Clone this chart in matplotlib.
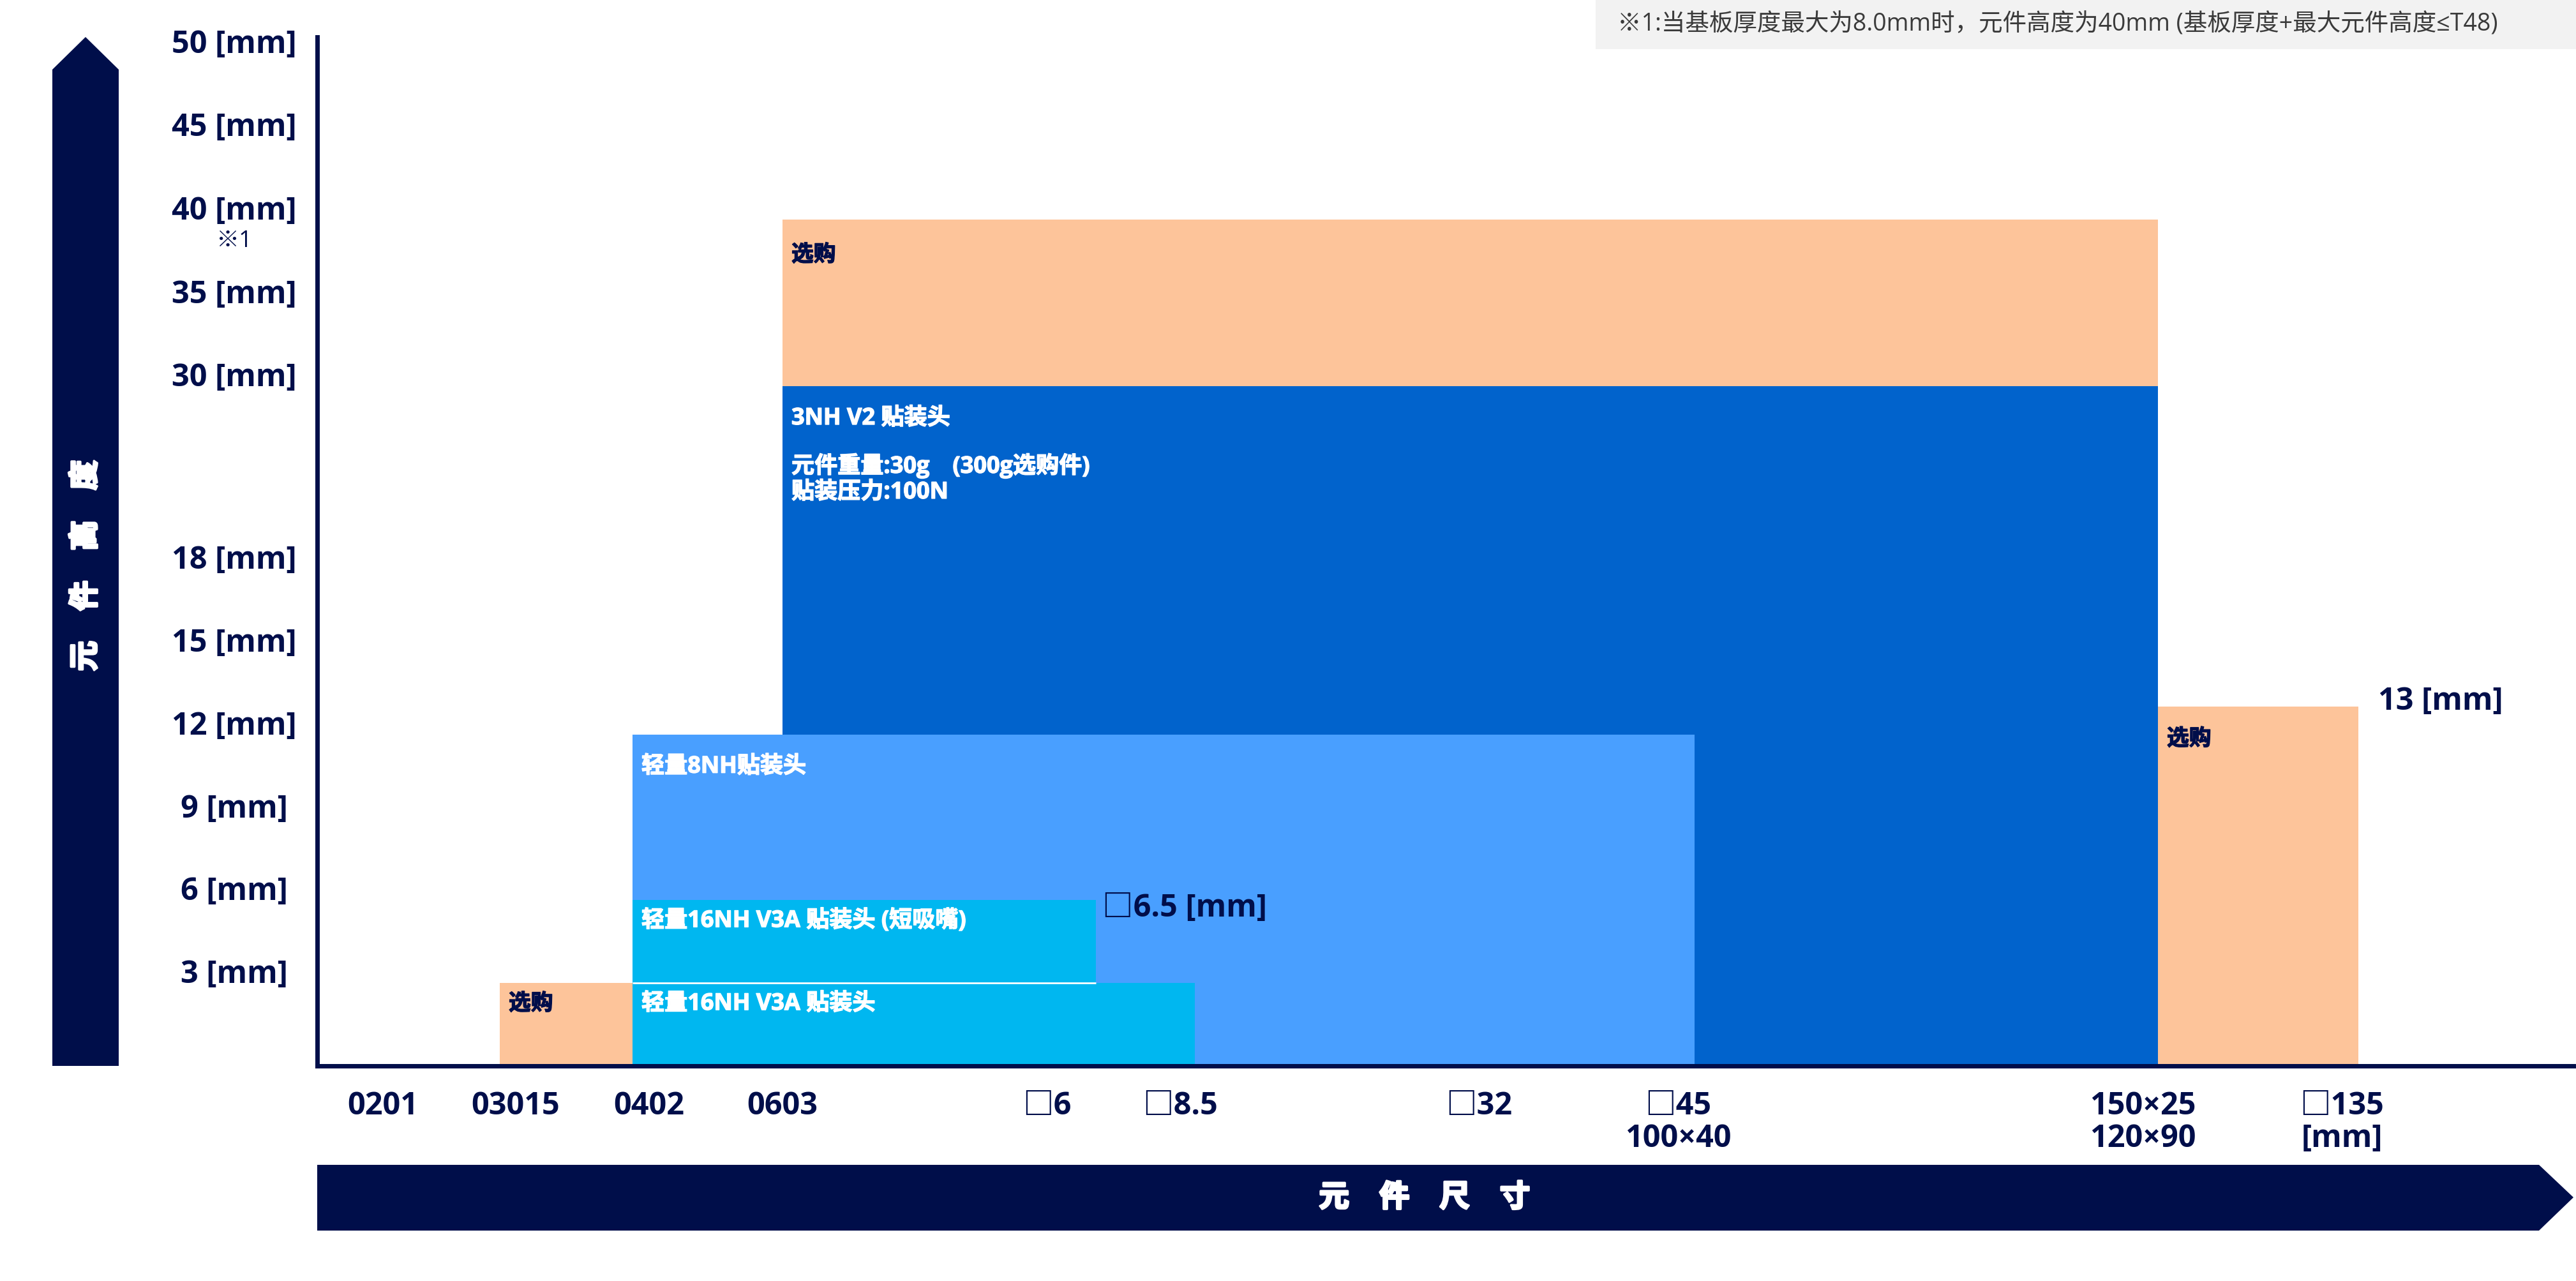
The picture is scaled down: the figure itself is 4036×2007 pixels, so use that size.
#!/usr/bin/env python3

import numpy as np
import matplotlib
matplotlib.use('Agg')
from matplotlib import pyplot as plt
from matplotlib import patheffects
from matplotlib.patches import Polygon, Rectangle

plt.rcParams['font.family'] = ['Open Sans', 'Noto Sans CJK SC', 'DejaVu Sans']

NAVY = '#000E4A'
PEACH = '#FDC49A'
BLUE_3NH = '#0163CC'
BLUE_8NH = '#499FFF'
CYAN_16NH = '#00B7F0'

##data
height_ticks = [3, 6, 9, 12, 15, 18, 30, 35, 40, 45, 50]
size_ticks = ['0201', '03015', '0402', '0603', '□6', '□8.5', '□32',
              '□45\n100×40', '150×25\n120×90', '□135\n[mm]']

box_labels = ['3NH V2 贴装头', '选购', '选购', '轻量8NH贴装头',
              '轻量16NH V3A 贴装头 (短吸嘴)', '轻量16NH V3A 贴装头', '选购']
box_from = ['0603', '0603', '150×25', '0402', '0402', '0402', '03015']
box_to = ['150×25', '150×25', '□135', '□45', '□6.5', '□8.5', '0402']
box_low = [0, 30, 0, 0, 3, 0, 0]
box_high = [30, 40, 13, 12, 6, 3, 3]
box_kind = ['3NH', 'option', 'option', '8NH', '16NH', '16NH', 'option']

spec_3nh = '元件重量:30g\u3000(300g选购件)\n贴装压力:100N'
max_height_note = '13 [mm]'
short_nozzle_note = '□6.5 [mm]'
footnote = '※1:当基板厚度最大为8.0mm时，元件高度为40mm (基板厚度+最大元件高度≤T48)'
x_title = '元\u3000件\u3000尺\u3000寸'
y_title = '元\u3000件\u3000高\u3000度'

##layout
W, H = 4037, 2007
# component sizes are not a numeric axis: where each one sits (px right of the y axis)
size_pos = {'03015': 286, '0402': 494, '0603': 729, '□6.5': 1220, '□8.5': 1375,
            '□45': 2158, '150×25': 2884, '□135': 3198}
tick_pos = [103, 311, 520, 729, 1143, 1352, 1820, 2132, 2860, 3172]
# broken height axis, mm -> px above the x axis
y_knots_mm = [0, 18, 30, 50, 60]
y_knots_px = [0, 779, 1065, 1587, 1848]

face = {'3NH': BLUE_3NH, '8NH': BLUE_8NH, '16NH': CYAN_16NH, 'option': PEACH}
ink = {'3NH': 'white', '8NH': 'white', '16NH': 'white', 'option': NAVY}
label_drop = [51, 56, 51, 51, 33, 33, 33]


def fx(px):
    return px / W


def fy(py):
    return 1 - py / H


def forward(v):
    return np.interp(v, y_knots_mm, y_knots_px)


def inverse(p):
    return np.interp(p, y_knots_px, y_knots_mm)


def heavy(colour, w):
    # the CJK face has no bold cut, thicken it with a stroke
    return [patheffects.withStroke(linewidth=w, foreground=colour)]


fig = plt.figure(figsize=(W / 100, H / 100), dpi=100)
ax_left, ax_bottom, ax_right, ax_top = 497, 1670, 4032, 58
ax = fig.add_axes([fx(ax_left), fy(ax_bottom), fx(ax_right - ax_left), (ax_bottom - ax_top) / H])
ax.set_yscale('function', functions=(forward, inverse))
ax.set_xlim(0, ax_right - ax_left)
ax.set_ylim(0, inverse(ax_bottom - ax_top))

for i in range(len(box_labels)):
    x0 = size_pos[box_from[i]]
    x1 = size_pos[box_to[i]]
    k = box_kind[i]
    ax.bar(x0, box_high[i] - box_low[i], width=x1 - x0, bottom=box_low[i],
           align='edge', color=face[k], linewidth=0, zorder=2)
    fs = 25 if k == 'option' else 26
    ax.annotate(box_labels[i], xy=(x0, box_high[i]), xytext=(14, -label_drop[i]),
                textcoords='offset pixels', ha='left', va='center',
                fontsize=fs, fontweight='bold', color=ink[k], zorder=4,
                path_effects=heavy(ink[k], 1.0))

# thin white seam between the two 16NH boxes
ax.hlines(3, size_pos['0402'], size_pos['□6.5'], color='white', lw=2, zorder=3)

ax.annotate(spec_3nh, xy=(size_pos['0603'], 30), xytext=(14, -145),
            textcoords='offset pixels', ha='left', va='center', linespacing=1.15,
            fontsize=26, fontweight='bold', color='white', zorder=4,
            path_effects=heavy('white', 1.0))
ax.annotate(max_height_note, xy=(size_pos['□135'], 13), xytext=(31, 8),
            textcoords='offset pixels', ha='left', va='center',
            fontsize=35, fontweight='bold', color=NAVY)
ax.annotate(short_nozzle_note, xy=(size_pos['□6.5'], 6), xytext=(10, -13),
            textcoords='offset pixels', ha='left', va='center',
            fontsize=35, fontweight='bold', color=NAVY, zorder=4)
ax.annotate('※1', xy=(0, 40), xycoords=('axes fraction', 'data'), xytext=(-131, -34),
            textcoords='offset pixels', ha='center', va='center',
            fontsize=26, color=NAVY)

##axes
for s in ['top', 'right']:
    ax.spines[s].set_visible(False)
for s in ['left', 'bottom']:
    ax.spines[s].set_color(NAVY)
    ax.spines[s].set_linewidth(5)
    ax.spines[s].set_zorder(5)

ax.set_yticks(height_ticks, labels=[f'{v} [mm]' for v in height_ticks],
              fontsize=35, fontweight='bold', color=NAVY)
ax.yaxis.set_minor_locator(matplotlib.ticker.NullLocator())
ax.tick_params(axis='y', length=0, pad=93.6)
for t in ax.get_yticklabels():
    t.set_ha('center')
    t.set_va('baseline')

ax.set_xticks(tick_pos, labels=size_ticks, fontsize=35, fontweight='bold', color=NAVY)
ax.tick_params(axis='x', length=0, pad=28)
for t in ax.get_xticklabels():
    t.set_linespacing(1.05)
    t.set_multialignment('center')

##arrow bands
left_band = [(82, ax_bottom), (82, 109), (134, 58), (186, 109), (186, ax_bottom)]
fig.add_artist(Polygon([(fx(a), fy(b)) for a, b in left_band], closed=True,
                       transform=fig.transFigure, color=NAVY, lw=0))
bottom_band = [(ax_left, 1825), (3978, 1825), (4032, 1876), (3978, 1928), (ax_left, 1928)]
fig.add_artist(Polygon([(fx(a), fy(b)) for a, b in bottom_band], closed=True,
                       transform=fig.transFigure, color=NAVY, lw=0))
fig.text(fx(2232), fy(1876), x_title, ha='center', va='center', fontsize=34,
         family=['Noto Sans CJK SC'], fontweight='bold', color='white',
         path_effects=heavy('white', 2.5))
fig.text(fx(134), fy(886), y_title, ha='center', va='center', rotation=90,
         family=['Noto Sans CJK SC'], fontsize=34, fontweight='bold', color='white',
         path_effects=heavy('white', 2.5))

##footnote box
fig.add_artist(Rectangle((fx(2500), fy(77)), fx(W - 2500), 77 / H,
                         transform=fig.transFigure, color='#F2F2F2', lw=0))
fig.text(fx(2534), fy(39), footnote, ha='left', va='center', fontsize=27, color='#3A3A3A')

fig.savefig('out.png', dpi=100)
